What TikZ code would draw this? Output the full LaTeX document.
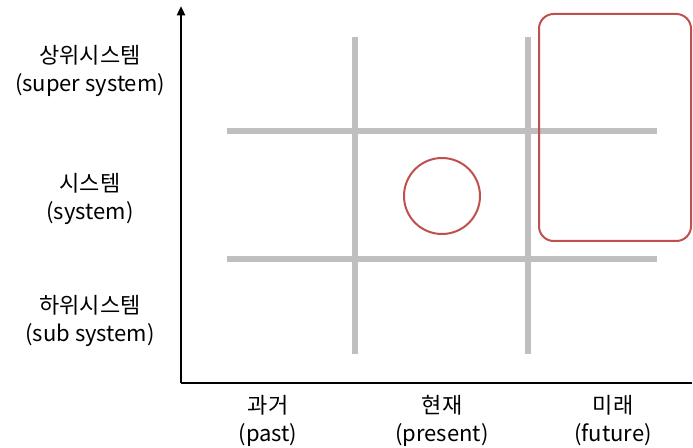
\documentclass[tikz,border=0pt]{standalone}
\usepackage{fontspec}
\setmainfont{Noto Sans CJK KR}
\usepackage{xcolor}
\usetikzlibrary{positioning,arrows.meta}
\definecolor{gridgray}{HTML}{BFBFBF}
\definecolor{redline}{HTML}{C0504D}

\begin{document}
\begin{tikzpicture}[
  x=0.75pt,y=-0.75pt,
  lab/.style={align=center,font=\fontsize{16.5}{21}\selectfont,inner sep=0pt},
  grid/.style={line width=3.8pt,color=gridgray},
  axis/.style={line width=1.7pt,color=black},
  hl/.style={line width=1.5pt,color=redline}]
  \useasboundingbox (0,0) rectangle (693,448);
  % axes
  \coordinate (origin) at (181,383);
  \coordinate (ytop) at (181,6);
  \coordinate (xend) at (692,383);
  \draw[axis,-{Triangle[length=7pt,width=6pt]}](origin)--(ytop);
  \draw[axis](origin)--(xend);
  % grid lines
  \draw[grid](355,37)--(355,354);
  \draw[grid](528,37)--(528,354);
  \draw[grid](227,131)--(657,131);
  \draw[grid](227,259)--(657,259);
  % highlights
  \node[hl,draw,circle,minimum size=57pt,inner sep=0pt](now) at (442,196){};
  \draw[hl,rounded corners=11pt](539,14) rectangle (691,241);
  % vertical labels
  \node[lab](super) at (90,71){상위시스템\\(super system)};
  \node[lab](sys) at (90,199){시스템\\(system)};
  \node[lab](sub) at (90,321){하위시스템\\(sub system)};
  % horizontal labels
  \node[lab](past) at (268,421){과거\\(past)};
  \node[lab](pres) at (442,421){현재\\(present)};
  \node[lab](fut) at (613,421){미래\\(future)};
\end{tikzpicture}
\end{document}
